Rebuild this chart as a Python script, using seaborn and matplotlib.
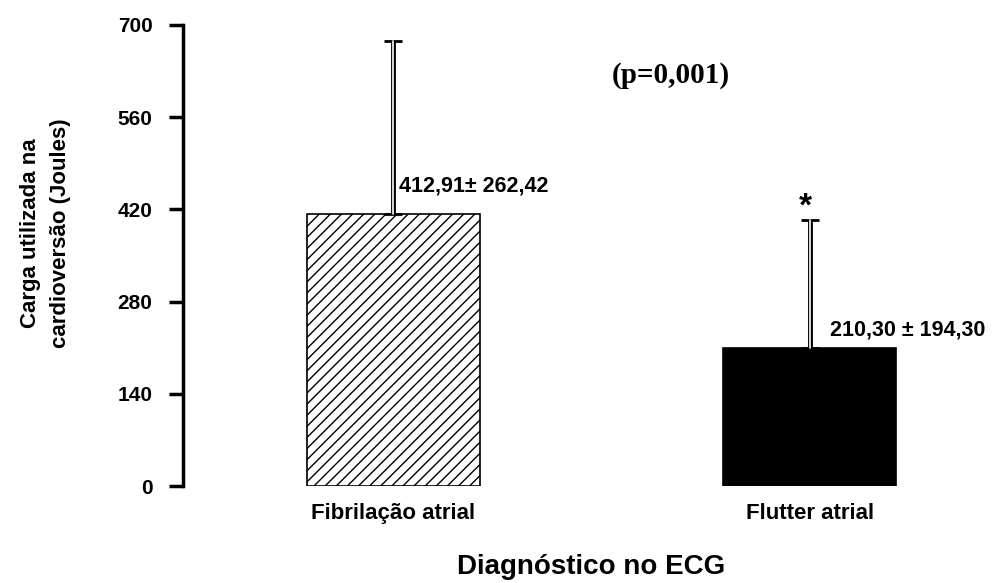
import pandas as pd
import matplotlib.pyplot as plt
import seaborn as sns

# Data
grupos = ["Fibrilação atrial", "Flutter atrial"]
media = [412.91, 210.30]
desvio = [262.42, 194.30]
rotulos = ["412,91± 262,42", "210,30 ± 194,30"]
yticks = [0, 140, 280, 420, 560, 700]

df = pd.DataFrame({"grupo": grupos, "carga": media})

sns.set_theme(style="white")
plt.rcParams["font.family"] = ["Liberation Sans", "DejaVu Sans"]
plt.rcParams["font.weight"] = "bold"
plt.rcParams["text.color"] = "black"
plt.rcParams["axes.labelcolor"] = "black"
plt.rcParams["xtick.color"] = "black"
plt.rcParams["ytick.color"] = "black"

fig = plt.figure(figsize=(10.07, 5.83), dpi=100)
ax = fig.add_axes([183 / 1007, 1 - 486 / 583, (1000 - 183) / 1007, (486 - 25) / 583])

sns.barplot(x="grupo", y="carga", data=df, ax=ax, width=0.415,
            palette=["white", "black"], hue="grupo", legend=False,
            edgecolor="black", linewidth=1.2)
ax.patches[0].set_hatch("///")

# Upper-only error bars, drawn as a hollow double line
for i, (m, s) in enumerate(zip(media, desvio)):
    ax.errorbar(i, m, yerr=[[0], [s]], fmt="none", ecolor="black",
                elinewidth=3.5, capsize=6.5, capthick=2, zorder=3)
    ax.plot([i, i], [m, m + s], color="white", lw=1.2, zorder=4)

# Value labels
ax.text(0.013, 455, rotulos[0], fontsize=15.5, fontweight="bold", va="center", ha="left")
ax.text(1.048, 237, rotulos[1], fontsize=15.5, fontweight="bold", va="center", ha="left")
ax.text(0.99, 410, "*", fontsize=24, fontweight="bold", ha="center", va="baseline")
ax.text(0.667, 624, "(p=0,001)", fontsize=21, fontweight="bold", ha="center", va="center",
        family="Liberation Serif")

ax.set_xlim(-0.504, 1.456)
ax.set_ylim(0, 700)
ax.set_yticks(yticks)
ax.set_yticklabels([str(t) for t in yticks], fontsize=15, fontweight="bold")
ax.set_xticks([0, 1])
ax.set_xticklabels(grupos, fontsize=16, fontweight="bold")

for side in ["top", "right", "bottom"]:
    ax.spines[side].set_visible(False)
ax.spines["left"].set_color("black")
ax.spines["left"].set_linewidth(2.5)
ax.tick_params(axis="y", direction="out", length=10, width=2.5, color="black", pad=12, left=True)
ax.tick_params(axis="x", length=0, pad=12)

ax.set_xlabel("Diagnóstico no ECG", fontsize=20, fontweight="bold", labelpad=22)
ax.set_ylabel("Carga utilizada na\ncardioversão (Joules)", fontsize=16, fontweight="bold",
              linespacing=1.55, va="center")
ax.yaxis.set_label_coords(-0.168, 0.549)

plt.savefig("out.png", dpi=100)
